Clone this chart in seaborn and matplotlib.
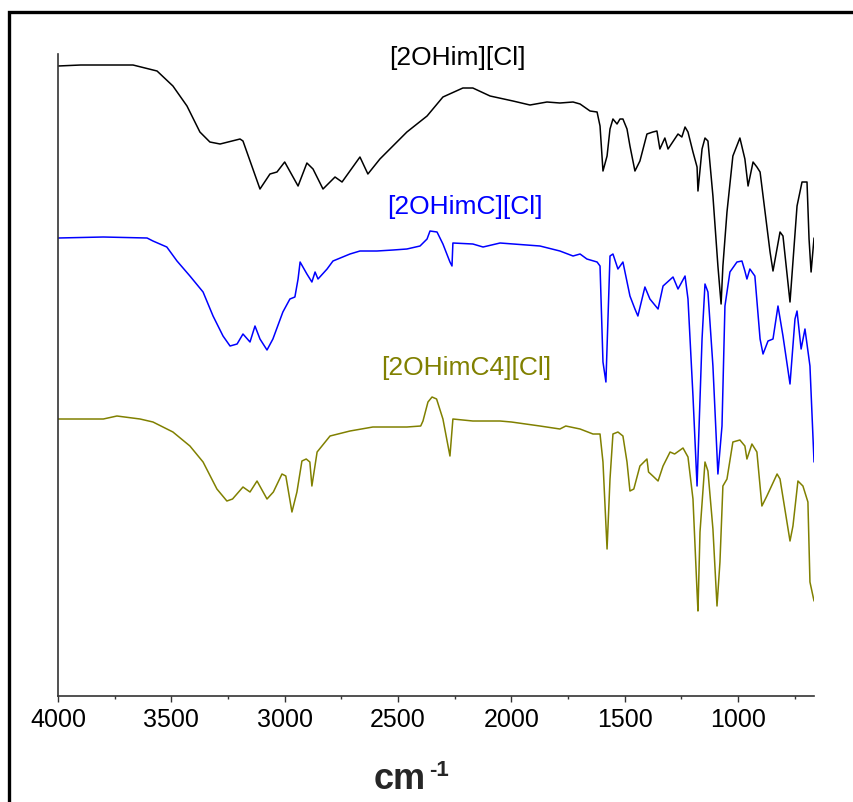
import pandas as pd
import seaborn as sns
import matplotlib.pyplot as plt
from matplotlib.patches import Rectangle
from matplotlib.ticker import MultipleLocator

# FTIR spectra (wavenumber in cm-1, stacked intensity a.u.)
wn_him = [4000, 3900, 3800, 3669, 3563, 3493, 3431, 3374, 3330, 3285, 3197, 3184,
          3109, 3065, 3034, 3000, 2941, 2902, 2875, 2831, 2778, 2747, 2668, 2633,
          2580, 2461, 2372, 2302, 2214, 2170, 2094, 1993, 1918, 1843, 1786, 1728,
          1697, 1653, 1622, 1609, 1596, 1578, 1565, 1552, 1534, 1521, 1508, 1490,
          1477, 1455, 1433, 1402, 1376, 1358, 1345, 1323, 1309, 1265, 1248, 1234,
          1221, 1199, 1181, 1177, 1159, 1146, 1133, 1111, 1089, 1075, 1067, 1049,
          1023, 992, 970, 956, 934, 917, 903, 859, 846, 815, 802, 771, 740, 718,
          696, 687, 678, 665]
int_him = [630, 631, 631, 631, 625, 610, 590, 564, 554, 552, 557, 555,
           507, 522, 524, 534, 510, 533, 527, 507, 519, 514, 539, 522,
           537, 564, 580, 599, 608, 608, 600, 595, 591, 594, 593, 594,
           592, 585, 584, 570, 525, 540, 567, 577, 572, 577, 577, 567,
           550, 525, 535, 562, 564, 565, 547, 558, 547, 562, 559, 569,
           564, 544, 529, 505, 547, 558, 555, 500, 430, 392, 430, 484,
           540, 558, 537, 510, 534, 529, 524, 444, 425, 464, 460, 394, 490, 514,
           514, 457, 424, 458]

wn_himc = [4000, 3800, 3607, 3581, 3520, 3475, 3418, 3360, 3316, 3272, 3241, 3210,
           3184, 3153, 3131, 3109, 3078, 3052, 3008, 2977, 2955, 2941, 2932, 2902,
           2880, 2866, 2853, 2813, 2787, 2712, 2668, 2593, 2522, 2461, 2403, 2372,
           2359, 2328, 2302, 2271, 2262, 2258, 2170, 2125, 2050, 1874, 1786, 1728,
           1697, 1667, 1622, 1609, 1596, 1583, 1565, 1552, 1530, 1508, 1477, 1455,
           1442, 1411, 1389, 1353, 1331, 1287, 1265, 1234, 1221, 1199, 1181, 1159,
           1146, 1133, 1111, 1089, 1071, 1058, 1036, 1005, 983, 970, 961, 948, 926,
           903, 890, 868, 846, 824, 802, 771, 749, 740, 722, 705, 683, 665]
int_himc = [458, 459, 458, 455, 449, 435, 420, 404, 380, 360, 350, 352,
            362, 354, 370, 357, 346, 357, 384, 397, 399, 417, 434, 422,
            414, 424, 417, 427, 435, 442, 445, 445, 446, 447, 450, 457,
            465, 464, 452, 434, 430, 453, 452, 449, 453, 450, 445, 440,
            442, 437, 434, 430, 334, 314, 440, 442, 427, 434, 400, 387,
            380, 409, 397, 387, 410, 419, 407, 420, 397, 300, 210, 357,
            412, 404, 330, 222, 270, 390, 424, 434, 435, 425, 417, 427, 420,
            357, 342, 355, 357, 390, 360, 312, 377, 385, 347, 367, 330, 234]

wn_himc4 = [4000, 3800, 3740, 3638, 3581, 3493, 3418, 3360, 3299, 3255, 3230, 3184,
            3153, 3122, 3078, 3050, 3012, 2995, 2968, 2946, 2924, 2905, 2889, 2880,
            2857, 2800, 2712, 2611, 2461, 2400, 2390, 2368, 2350, 2330, 2302, 2271,
            2258, 2170, 2050, 2000, 1874, 1786, 1760, 1697, 1640, 1609, 1596, 1578,
            1565, 1552, 1530, 1508, 1490, 1477, 1460, 1433, 1402, 1395, 1376, 1353,
            1331, 1300, 1280, 1243, 1221, 1199, 1181, 1177, 1168, 1146, 1133, 1111,
            1093, 1080, 1067, 1049, 1023, 992, 970, 961, 939, 917, 895, 873, 828,
            815, 771, 758, 736, 714, 692, 683, 665]
int_himc4 = [277, 277, 280, 277, 274, 264, 250, 234, 207, 195, 197, 209,
             204, 215, 197, 204, 222, 220, 184, 204, 235, 237, 234, 210,
             244, 260, 265, 269, 269, 270, 275, 294, 299, 297, 277, 240,
             277, 275, 275, 274, 270, 267, 270, 267, 262, 262, 234, 147,
             217, 262, 264, 260, 234, 205, 207, 230, 237, 224, 220, 215,
             230, 244, 242, 248, 239, 197, 104, 85, 164, 234, 225, 167,
             90, 134, 210, 217, 254, 256, 250, 237, 252, 244, 190, 200, 222,
             217, 155, 170, 215, 210, 194, 114, 95]

names = ["[2OHim][Cl]", "[2OHimC][Cl]", "[2OHimC4][Cl]"]
colors = ["#000000", "#0000ff", "#808000"]
label_x = [2240, 2204, 2200]
label_y = [639, 490, 329]

df = pd.concat([
    pd.DataFrame({"wn": wn_him, "y": int_him, "sample": names[0]}),
    pd.DataFrame({"wn": wn_himc, "y": int_himc, "sample": names[1]}),
    pd.DataFrame({"wn": wn_himc4, "y": int_himc4, "sample": names[2]}),
])

sns.set_style("white")
plt.rcParams["font.family"] = ["Liberation Sans", "DejaVu Sans"]

fig = plt.figure(figsize=(8.54, 8.03), dpi=100)
ax = fig.add_axes([0.0679, 0.1320, 0.8853, 0.7995])

sns.lineplot(data=df, x="wn", y="y", hue="sample", palette=colors,
             estimator=None, sort=False, linewidth=1.1, legend=False, ax=ax)

for name, c, tx, ty in zip(names, colors, label_x, label_y):
    ax.text(tx, ty, name, color=c, fontsize=19, ha="center", va="center")

ax.set_xlim(4000, 665)
ax.set_ylim(0, 642)
ax.xaxis.set_major_locator(MultipleLocator(500))
ax.xaxis.set_minor_locator(MultipleLocator(250))
ax.tick_params(axis="x", which="major", direction="out", length=4.5, width=1,
               labelsize=18, pad=3.5, color="#333333", labelcolor="black", bottom=True)
ax.tick_params(axis="x", which="minor", direction="out", length=2.5, width=1,
               color="#333333", bottom=True)
ax.set_yticks([])
ax.set_ylabel("")

# x label: bold "cm" with a plain hyphen superscript
ax.set_xlabel("cm", fontsize=26, fontweight="bold")
ax.xaxis.set_label_coords(0.452, -0.102)
ax.text(0.491, -0.098, "-1", transform=ax.transAxes, fontsize=16,
        fontweight="bold", ha="left", va="top")

for s in ["top", "right"]:
    ax.spines[s].set_visible(False)
for s in ["left", "bottom"]:
    ax.spines[s].set_color("#333333")
    ax.spines[s].set_linewidth(1.2)

# outer frame of the original figure (cropped on right/bottom)
fig.patches.append(Rectangle((0.0111, -0.2), 1.5, 1.1844, transform=fig.transFigure,
                             fill=False, edgecolor="black", linewidth=2.4))

fig.savefig("out.png", dpi=100)
